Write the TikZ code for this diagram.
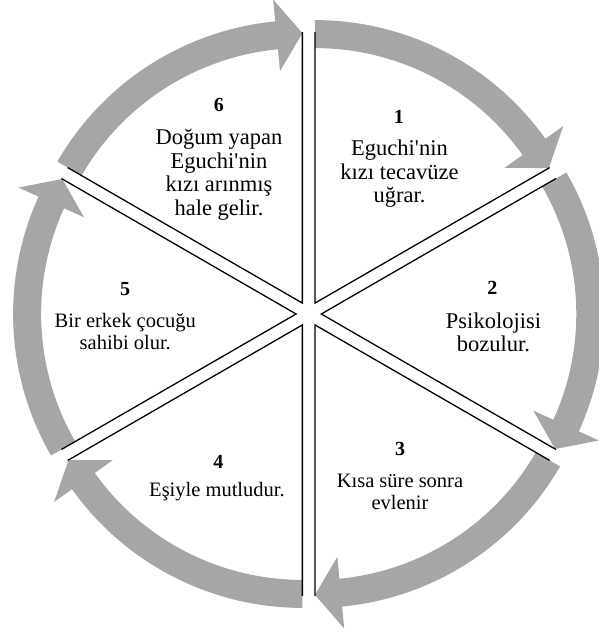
\documentclass[tikz,border=0pt]{standalone}
\usepackage{fontspec}
\setmainfont{Liberation Serif}
\definecolor{bandgray}{RGB}{166,166,166}
\tikzset{
  edge/.style={draw=black, line width=1.3pt, line join=miter},
  band/.style={fill=bandgray},
  num/.style={font=\bfseries\fontsize{20}{22}\selectfont, inner sep=0pt},
  bigtxt/.style={align=center, inner sep=0pt, font=\fontsize{22.5}{23.5}\selectfont},
  smalltxt/.style={align=center, inner sep=0pt, font=\fontsize{20.5}{22}\selectfont},
  sector/.pic={
    \fill[band] ({#1+30}:283) arc[start angle=#1+30, end angle=#1-24.5, radius=283]
      -- ({#1-24.5}:305) -- ({#1-30}:270) -- ({#1-24.5}:233)
      -- ({#1-24.5}:255) arc[start angle=#1-24.5, end angle=#1+30, radius=255] -- cycle;
    \draw[edge] ({#1+30}:271) -- (0,0) -- ({#1-30}:271);
  },
}

\begin{document}
\begin{tikzpicture}[x=1pt, y=1pt]
    \useasboundingbox (-308.7,-321) rectangle (289.3,314);
    % exploded wheel, one pic per step
    \pic at (60:12.6) {sector=60};
    \pic at (0:12.6) {sector=0};
    \pic at (-60:12.6) {sector=-60};
    \pic at (-120:12.6) {sector=-120};
    \pic at (180:12.6) {sector=180};
    \pic at (120:12.6) {sector=120};
    % step texts
    \node[num] (n1) at (90.2,197) {1};
    \node[bigtxt] (t1) at (90.8,140) {Eguchi\textquotesingle nin\\kızı tecavüze\\uğrar.};
    \node[num] (n2) at (183.7,26.6) {2};
    \node[bigtxt] (t2) at (184.8,-18.5) {Psikolojisi\\bozulur.};
    \node[num] (n3) at (91.3,-135.4) {3};
    \node[smalltxt] (t3) at (91.3,-177.5) {Kısa süre sonra\\evlenir};
    \node[num] (n4) at (-90.4,-147.5) {4};
    \node[smalltxt] (t4) at (-91.7,-177.5) {Eşiyle mutludur.};
    \node[num] (n5) at (-183.5,24.5) {5};
    \node[smalltxt] (t5) at (-183.4,-17.5) {Bir erkek çocuğu\\sahibi olur.};
    \node[num] (n6) at (-89.7,209) {6};
    \node[bigtxt] (t6) at (-89.7,139.5) {Doğum yapan\\Eguchi\textquotesingle nin\\kızı arınmış\\hale gelir.};
\end{tikzpicture}
\end{document}
